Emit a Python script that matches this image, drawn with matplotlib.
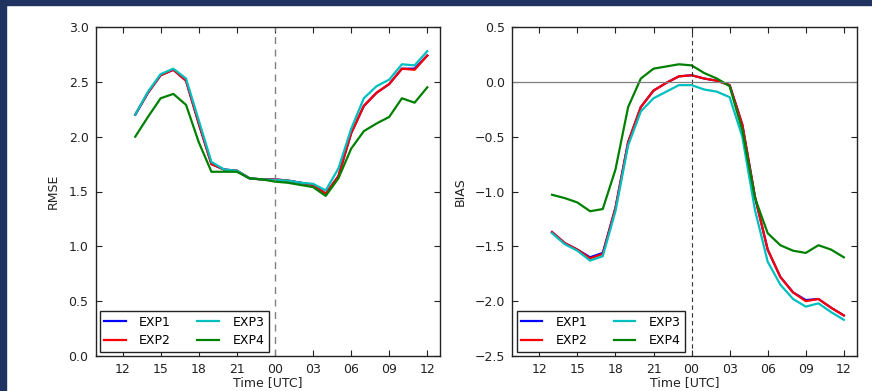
import matplotlib
matplotlib.use("Agg")
import matplotlib.pyplot as plt
import numpy as np

hours = list(range(1, 25))  # 13 UTC .. 12 UTC next day (offset from 12 UTC)
tick_pos = [0, 3, 6, 9, 12, 15, 18, 21, 24]
tick_labels = ["12", "15", "18", "21", "00", "03", "06", "09", "12"]

rmse_exp1 = [2.20, 2.40, 2.56, 2.61, 2.51, 2.12, 1.75, 1.70, 1.69, 1.62, 1.61, 1.61,
             1.60, 1.58, 1.56, 1.48, 1.64, 2.03, 2.28, 2.40, 2.48, 2.62, 2.62, 2.74]
rmse_exp2 = [2.20, 2.40, 2.56, 2.61, 2.51, 2.12, 1.75, 1.70, 1.69, 1.62, 1.61, 1.61,
             1.60, 1.58, 1.56, 1.48, 1.64, 2.03, 2.28, 2.40, 2.48, 2.62, 2.61, 2.74]
rmse_exp3 = [2.20, 2.41, 2.57, 2.62, 2.53, 2.15, 1.77, 1.70, 1.69, 1.62, 1.61, 1.605,
             1.60, 1.58, 1.57, 1.51, 1.71, 2.07, 2.35, 2.46, 2.52, 2.66, 2.65, 2.78]
rmse_exp4 = [2.00, 2.18, 2.35, 2.39, 2.29, 1.95, 1.68, 1.68, 1.68, 1.62, 1.61, 1.59,
             1.58, 1.56, 1.54, 1.46, 1.62, 1.89, 2.05, 2.12, 2.18, 2.35, 2.31, 2.45]

bias_exp1 = [-1.37, -1.47, -1.53, -1.60, -1.56, -1.15, -0.55, -0.23, -0.08, -0.01, 0.05, 0.06,
             0.03, 0.01, -0.03, -0.39, -1.05, -1.53, -1.78, -1.92, -1.99, -1.98, -2.06, -2.13]
bias_exp2 = [-1.37, -1.47, -1.53, -1.61, -1.57, -1.15, -0.55, -0.23, -0.08, -0.01, 0.05, 0.06,
             0.03, 0.01, -0.03, -0.39, -1.05, -1.53, -1.78, -1.92, -2.00, -1.98, -2.06, -2.13]
bias_exp3 = [-1.38, -1.48, -1.54, -1.63, -1.59, -1.18, -0.58, -0.27, -0.15, -0.09, -0.03, -0.03,
             -0.07, -0.09, -0.14, -0.50, -1.17, -1.64, -1.85, -1.98, -2.05, -2.02, -2.10, -2.17]
bias_exp4 = [-1.03, -1.06, -1.10, -1.18, -1.16, -0.80, -0.23, 0.03, 0.12, 0.14, 0.16, 0.15,
             0.08, 0.03, -0.04, -0.44, -1.06, -1.38, -1.49, -1.54, -1.56, -1.49, -1.53, -1.60]

names = ["EXP1", "EXP2", "EXP3", "EXP4"]
colors = ["#0000ff", "#ff0000", "#00bfbf", "#008000"]

plt.rcParams["font.family"] = "DejaVu Sans"
plt.rcParams["font.size"] = 9

fig = plt.figure(figsize=(8.72, 3.91), dpi=100)
fig.patch.set_facecolor("white")
# navy frame on the top and left edges
fig.add_artist(plt.Rectangle((0, 0), 6 / 872, 1, transform=fig.transFigure,
                             color="#1f3260", zorder=10))
fig.add_artist(plt.Rectangle((0, 1 - 5 / 391), 1, 5 / 391, transform=fig.transFigure,
                             color="#1f3260", zorder=10))

ax1 = fig.add_axes([95.5 / 872, 1 - 356 / 391, (440 - 95.5) / 872, (356 - 27) / 391])
ax2 = fig.add_axes([512.3 / 872, 1 - 356 / 391, (856.5 - 512.3) / 872, (356 - 27) / 391])


def style(ax):
    ax.set_xlim(-2.13, 25)
    ax.set_xticks(tick_pos)
    ax.set_xticklabels(tick_labels)
    ax.tick_params(direction="in", top=True, right=True, length=4, width=0.8,
                   colors="#222222", labelsize=9, pad=5)
    for s in ax.spines.values():
        s.set_linewidth(1.0)
        s.set_color("#222222")
    ax.set_xlabel("Time [UTC]", fontsize=9, labelpad=0, color="#222222")


rmse = [rmse_exp1, rmse_exp2, rmse_exp3, rmse_exp4]
bias = [bias_exp1, bias_exp2, bias_exp3, bias_exp4]

for vals, n, c in zip(rmse, names, colors):
    ax1.plot(hours, vals, color=c, lw=1.6, label=n)
ax1.axvline(12, color="gray", ls="--", lw=1.0, dashes=(5, 4))
ax1.set_ylim(0, 3.0)
ax1.set_yticks(np.arange(0, 3.01, 0.5))
ax1.set_yticklabels([f"{v:.1f}" for v in np.arange(0, 3.01, 0.5)])
ax1.set_ylabel("RMSE", fontsize=9, color="#222222", labelpad=6)
style(ax1)

for vals, n, c in zip(bias, names, colors):
    ax2.plot(hours, vals, color=c, lw=1.6, label=n)
ax2.axvline(12, color="#333333", ls="--", lw=0.8, dashes=(4, 3))
ax2.axhline(0, color="gray", lw=0.9)
ax2.set_ylim(-2.5, 0.5)
ax2.set_yticks(np.arange(-2.5, 0.51, 0.5))
ax2.set_yticklabels([f"{v:.1f}".replace("-", "\u2212") for v in np.arange(-2.5, 0.51, 0.5)])
ax2.set_ylabel("BIAS", fontsize=9, color="#222222", labelpad=6)
style(ax2)

for ax in (ax1, ax2):
    leg = ax.legend(loc="lower left", ncol=2, fontsize=9, fancybox=False,
                    edgecolor="#222222", framealpha=1, handlelength=1.7,
                    columnspacing=2.1, borderaxespad=0.35, handletextpad=1.1,
                    labelspacing=0.45, borderpad=0.35)
    leg.get_frame().set_linewidth(1.0)

fig.savefig("out.png", dpi=100)
